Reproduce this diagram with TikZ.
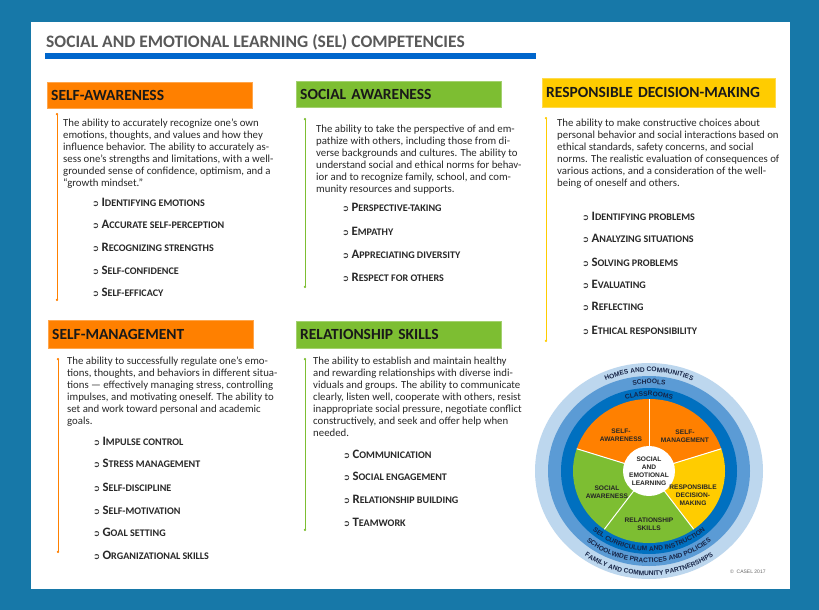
\documentclass[tikz,border=0pt]{standalone}
\usepackage{fontspec}
\setmainfont{Carlito}
\setsansfont{Liberation Sans}
\newfontfamily\symfont{DejaVu Sans}
\usepackage{tikz}
\usetikzlibrary{positioning}
\usetikzlibrary{arrows.meta}
\usetikzlibrary{decorations.text}
\definecolor{frameblue}{RGB}{23,120,168}
\definecolor{barblue}{RGB}{0,102,204}
\definecolor{selorange}{RGB}{255,128,0}
\definecolor{selgreen}{RGB}{125,190,50}
\definecolor{selyellow}{RGB}{255,204,0}
\definecolor{ringlight}{RGB}{189,215,238}
\definecolor{ringmid}{RGB}{91,155,213}
\definecolor{ringdark}{RGB}{0,112,192}
\definecolor{bodygray}{RGB}{40,40,40}
\definecolor{titlegray}{RGB}{89,89,89}
\definecolor{ringtext}{RGB}{22,36,70}

\newcommand\bul{{\symfont\fontsize{8.5}{9}\selectfont ➲}}
\newcommand\skill[2]{\bul\ {\fontsize{12.8}{13}\selectfont\bfseries #1}{\fontsize{10.1}{11}\selectfont\bfseries #2}}
\newcommand\ringfont{\color{ringtext}\sffamily\bfseries\fontsize{6.6}{7}\selectfont}

\begin{document}
\begin{tikzpicture}
    [x=1pt, y=-1pt,
    head/.style={anchor=north west, inner xsep=4pt, inner ysep=0pt, minimum height=26pt, align=left, text=black!90, font=\fontsize{15.5}{17}\selectfont\bfseries},
    para/.style={anchor=north west, inner sep=0pt, align=left, text=bodygray, font=\fontsize{10.8}{12}\selectfont},
    item/.style={anchor=base west, inner sep=0pt, text=bodygray},
    rule/.style={line width=0.8pt, {Circle[length=2.2pt]}-{Circle[length=2.2pt]}},
    wheellabel/.style={inner sep=0pt, align=center, text=black!85, font=\sffamily\bfseries\fontsize{6.6}{7.9}\selectfont}]
    %\draw[step=10pt,gray,very thin] (0,0) grid (819,610);
    \useasboundingbox (0,0) rectangle (819,610);
    \fill[frameblue] (0,0) rectangle (819,610);
    \fill[white] (31,22) rectangle (790,589);
    \node[anchor=base west, inner sep=0pt, text=titlegray, font=\fontsize{17.5}{20}\selectfont\bfseries] (title) at (46,48) {SOCIAL AND EMOTIONAL LEARNING (SEL) COMPETENCIES};
    \fill[barblue] (45,53) rectangle (536,59);

    \node[head, fill=selorange, draw=selorange!70, text width=197pt] (sawhead) at (47,82) {SELF-AWARENESS};
    \node[head, fill=selgreen, draw=selgreen!70, text width=197pt] (soahead) at (296,81) {SOCIAL AWARENESS};
    \node[head, fill=selyellow, draw=selyellow!70, text width=225pt, minimum height=29pt] (rdmhead) at (542,78) {RESPONSIBLE DECISION-MAKING};
    \node[head, fill=selorange, draw=selorange!70, text width=197pt, minimum height=28pt] (smhead) at (48,320) {SELF-MANAGEMENT};
    \node[head, fill=selgreen, draw=selgreen!70, text width=197pt, minimum height=27pt] (rshead) at (296,321) {RELATIONSHIP SKILLS};

    \coordinate (sawtop) at (57,113);
    \coordinate (sawbot) at (57,301);
    \coordinate (soatop) at (305,118);
    \coordinate (soabot) at (305,288);
    \coordinate (rdmtop) at (546,117);
    \coordinate (rdmbot) at (546,342);
    \coordinate (smtop) at (58,358);
    \coordinate (smbot) at (58,553);
    \coordinate (rstop) at (305,358);
    \coordinate (rsbot) at (305,531);
    \draw[rule, selorange] (sawtop) -- (sawbot);
    \draw[rule, selgreen] (soatop) -- (soabot);
    \draw[rule, selyellow] (rdmtop) -- (rdmbot);
    \draw[rule, selorange] (smtop) -- (smbot);
    \draw[rule, selgreen] (rstop) -- (rsbot);

    \node[para] (sawtext) at (63,119) {The ability to accurately recognize one’s own\\emotions, thoughts, and values and how they\\influence behavior. The ability to accurately as-\\sess one’s strengths and limitations, with a well-\\grounded sense of confidence, optimism, and a\\“growth mindset.”};
    \node[para] (soatext) at (316,124.5) {The ability to take the perspective of and em-\\pathize with others, including those from di-\\verse backgrounds and cultures. The ability to\\understand social and ethical norms for behav-\\ior and to recognize family, school, and com-\\munity resources and supports.};
    \node[para] (rdmtext) at (557,119) {The ability to make constructive choices about\\personal behavior and social interactions based on\\ethical standards, safety concerns, and social\\norms. The realistic evaluation of consequences of\\various actions, and a consideration of the well-\\being of oneself and others.};
    \node[para] (smtext) at (67,356.5) {The ability to successfully regulate one’s emo-\\tions, thoughts, and behaviors in different situa-\\tions --- effectively managing stress, controlling\\impulses, and motivating oneself. The ability to\\set and work toward personal and academic\\goals.};
    \node[para] (rstext) at (313,356.5) {The ability to establish and maintain healthy\\and rewarding relationships with diverse indi-\\viduals and groups. The ability to communicate\\clearly, listen well, cooperate with others, resist\\inappropriate social pressure, negotiate conflict\\constructively, and seek and offer help when\\needed.};

    \node[item] (saw1) at (92,206) {\skill{I}{DENTIFYING EMOTIONS}};
    \node[item] (saw2) at (92,228.5) {\skill{A}{CCURATE SELF-PERCEPTION}};
    \node[item] (saw3) at (92,251.5) {\skill{R}{ECOGNIZING STRENGTHS}};
    \node[item] (saw4) at (92,274.5) {\skill{S}{ELF-CONFIDENCE}};
    \node[item] (saw5) at (92,296.5) {\skill{S}{ELF-EFFICACY}};

    \node[item] (soa1) at (342,211) {\skill{P}{ERSPECTIVE-TAKING}};
    \node[item] (soa2) at (342,235) {\skill{E}{MPATHY}};
    \node[item] (soa3) at (342,258) {\skill{A}{PPRECIATING DIVERSITY}};
    \node[item] (soa4) at (342,281) {\skill{R}{ESPECT FOR OTHERS}};

    \node[item] (rdm1) at (582,220) {\skill{I}{DENTIFYING PROBLEMS}};
    \node[item] (rdm2) at (582,242) {\skill{A}{NALYZING SITUATIONS}};
    \node[item] (rdm3) at (582,266) {\skill{S}{OLVING PROBLEMS}};
    \node[item] (rdm4) at (582,288) {\skill{E}{VALUATING}};
    \node[item] (rdm5) at (582,310) {\skill{R}{EFLECTING}};
    \node[item] (rdm6) at (582,334) {\skill{E}{THICAL RESPONSIBILITY}};

    \node[item] (sm1) at (93,445) {\skill{I}{MPULSE CONTROL}};
    \node[item] (sm2) at (93,467) {\skill{S}{TRESS MANAGEMENT}};
    \node[item] (sm3) at (93,491) {\skill{S}{ELF-DISCIPLINE}};
    \node[item] (sm4) at (93,514) {\skill{S}{ELF-MOTIVATION}};
    \node[item] (sm5) at (93,536) {\skill{G}{OAL SETTING}};
    \node[item] (sm6) at (93,559) {\skill{O}{RGANIZATIONAL SKILLS}};

    \node[item] (rs1) at (343,458) {\skill{C}{OMMUNICATION}};
    \node[item] (rs2) at (343,480) {\skill{S}{OCIAL ENGAGEMENT}};
    \node[item] (rs3) at (343,503) {\skill{R}{ELATIONSHIP BUILDING}};
    \node[item] (rs4) at (343,526) {\skill{T}{EAMWORK}};

    % wheel
    \begin{scope}[shift={(649,471)}, y=1pt]
    \fill[ringlight] (0,0) ellipse[x radius=114, y radius=108];
    \fill[ringmid] (0,0) ellipse[x radius=101, y radius=95];
    \fill[ringdark] (0,0) ellipse[x radius=88, y radius=83];
    \fill[selorange] (0,0) -- (90:76 and 72) arc[start angle=90, end angle=162, x radius=76, y radius=72] -- cycle;
    \fill[selorange] (0,0) -- (18:76 and 72) arc[start angle=18, end angle=90, x radius=76, y radius=72] -- cycle;
    \fill[selyellow] (0,0) -- (-54:76 and 72) arc[start angle=-54, end angle=18, x radius=76, y radius=72] -- cycle;
    \fill[selgreen] (0,0) -- (-126:76 and 72) arc[start angle=-126, end angle=-54, x radius=76, y radius=72] -- cycle;
    \fill[selgreen] (0,0) -- (162:76 and 72) arc[start angle=162, end angle=234, x radius=76, y radius=72] -- cycle;
    \draw[white, line width=1pt] (0,0) -- (90:76 and 72);
    \draw[white, line width=1pt] (0,0) -- (18:76 and 72);
    \draw[white, line width=1pt] (0,0) -- (-54:76 and 72);
    \draw[white, line width=1pt] (0,0) -- (-126:76 and 72);
    \draw[white, line width=1pt] (0,0) -- (162:76 and 72);
    \fill[white] (0,0) ellipse[x radius=26, y radius=25];
    \node[wheellabel] (sel) at (0,0) {SOCIAL\\AND\\EMOTIONAL\\LEARNING};
    \node[wheellabel] (wsaw) at (-28,36) {SELF-\\AWARENESS};
    \node[wheellabel] (wsm) at (36,35) {SELF-\\MANAGEMENT};
    \node[wheellabel] (wrdm) at (44,-24) {RESPONSIBLE\\DECISION-\\MAKING};
    \node[wheellabel] (wrs) at (0,-53) {RELATIONSHIP\\SKILLS};
    \node[wheellabel] (wsoa) at (-42,-21) {SOCIAL\\AWARENESS};
    \path[decorate, decoration={text along path, text align=center, text={|\ringfont|HOMES AND COMMUNITIES}}] (160:105 and 99) arc[start angle=160, end angle=20, x radius=105, y radius=99];
    \path[decorate, decoration={text along path, text align=center, text={|\ringfont|SCHOOLS}}] (160:92 and 87) arc[start angle=160, end angle=20, x radius=92, y radius=87];
    \path[decorate, decoration={text along path, text align=center, text={|\ringfont|CLASSROOMS}}] (160:80 and 75) arc[start angle=160, end angle=20, x radius=80, y radius=75];
    \path[decorate, decoration={text along path, text align=center, text={|\ringfont|SEL CURRICULUM AND INSTRUCTION}}] (200:84.5 and 80) arc[start angle=200, end angle=340, x radius=84.5, y radius=80];
    \path[decorate, decoration={text along path, text align=center, text={|\ringfont|SCHOOLWIDE PRACTICES AND POLICIES}}] (200:97.5 and 91.5) arc[start angle=200, end angle=340, x radius=97.5, y radius=91.5];
    \path[decorate, decoration={text along path, text align=center, text={|\ringfont|FAMILY AND COMMUNITY PARTNERSHIPS}}] (200:110.5 and 104.5) arc[start angle=200, end angle=340, x radius=110.5, y radius=104.5];
    \end{scope}
    \node[anchor=base west, inner sep=0pt, text=black!60, font=\sffamily\fontsize{5}{6}\selectfont] (casel) at (730,573) {©\ \ CASEL 2017};
\end{tikzpicture}
\end{document}
